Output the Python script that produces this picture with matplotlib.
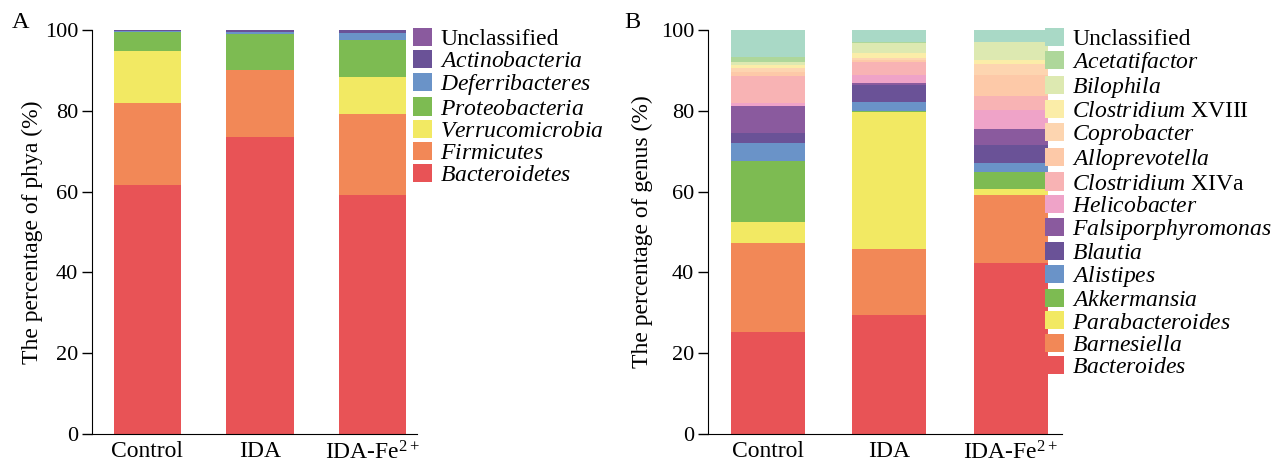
import numpy as np
import matplotlib
matplotlib.use("Agg")
import matplotlib.pyplot as plt

plt.rcParams['font.family'] = ['Liberation Serif', 'DejaVu Serif']
plt.rcParams['mathtext.fontset'] = 'custom'
plt.rcParams['mathtext.rm'] = 'Liberation Serif'
plt.rcParams['mathtext.it'] = 'Liberation Serif:italic'
plt.rcParams['font.size'] = 17.5

groups = ['Control', 'IDA', r'IDA-Fe$^{2+}$']

# panel A: phyla (bottom to top)
phyla = ['Bacteroidetes', 'Firmicutes', 'Verrucomicrobia', 'Proteobacteria',
         'Deferribacteres', 'Actinobacteria', 'Unclassified']
phyla_labels = [r'$\mathit{Bacteroidetes}$', r'$\mathit{Firmicutes}$',
                r'$\mathit{Verrucomicrobia}$', r'$\mathit{Proteobacteria}$',
                r'$\mathit{Deferribacteres}$', r'$\mathit{Actinobacteria}$',
                'Unclassified']
phyla_values = {
    'Control': [61.7, 20.3, 12.9, 4.7, 0.1, 0.2, 0.1],
    'IDA': [73.4, 16.7, 0.0, 8.9, 0.5, 0.4, 0.1],
    'IDA-Fe': [59.1, 20.1, 9.2, 9.1, 1.8, 0.6, 0.1],
}
phyla_colors = ['#E85356', '#F28857', '#F2E963', '#7DBB52',
                '#6A93C8', '#6A5297', '#8A5A9E']

# panel B: genera (bottom to top)
genera = ['Bacteroides', 'Barnesiella', 'Parabacteroides', 'Akkermansia',
          'Alistipes', 'Blautia', 'Falsiporphyromonas', 'Helicobacter',
          'Clostridium XIVa', 'Alloprevotella', 'Coprobacter',
          'Clostridium XVIII', 'Bilophila', 'Acetatifactor', 'Unclassified']
genera_labels = [r'$\mathit{Bacteroides}$', r'$\mathit{Barnesiella}$',
                 r'$\mathit{Parabacteroides}$', r'$\mathit{Akkermansia}$',
                 r'$\mathit{Alistipes}$', r'$\mathit{Blautia}$',
                 r'$\mathit{Falsiporphyromonas}$', r'$\mathit{Helicobacter}$',
                 r'$\mathit{Clostridium}$ XIVa', r'$\mathit{Alloprevotella}$',
                 r'$\mathit{Coprobacter}$', r'$\mathit{Clostridium}$ XVIII',
                 r'$\mathit{Bilophila}$', r'$\mathit{Acetatifactor}$',
                 'Unclassified']
genera_values = {
    'Control': [25.2, 22.2, 5.0, 15.2, 4.4, 2.6, 6.5, 0.8, 6.8, 1.0, 1.0, 0.7, 0.6, 1.4, 6.6],
    'IDA': [29.5, 16.2, 34.0, 0.3, 2.3, 4.2, 0.3, 2.1, 3.3, 0.4, 0.4, 1.2, 2.7, 0.2, 2.9],
    'IDA-Fe': [42.3, 16.9, 1.4, 4.3, 2.1, 4.5, 4.0, 4.7, 3.5, 5.2, 2.7, 1.0, 4.5, 0.0, 2.9],
}
genera_colors = ['#E85356', '#F28857', '#F2E963', '#7DBB52', '#6A93C8',
                 '#6A5297', '#8A5A9E', '#EFA3C8', '#F8B3B4', '#FDC9A8',
                 '#FDD5B0', '#FBEDA8', '#DDE9B1', '#AED79A', '#A9D9C6']

W, H = 1283, 465
fig = plt.figure(figsize=(W / 100, H / 100), dpi=100)


def stacked(ax_px, names, labels, values, colors, xlim, width, ylabel, label_x, legend_x):
    left, right = ax_px
    ax = fig.add_axes([left / W, 1 - 434 / H, (right - left) / W, 404 / H])
    x = np.arange(len(groups))
    data = np.array([values[k] for k in values]).T
    bottom = np.zeros(len(groups))
    handles = []
    for i, name in enumerate(names):
        b = ax.bar(x, data[i], width, bottom=bottom, color=colors[i], linewidth=0)
        handles.append(b)
        bottom += data[i]
    ax.set_xlim(*xlim)
    ax.set_ylim(0, 100)
    ax.set_yticks([0, 20, 40, 60, 80, 100])
    ax.set_xticks(x)
    ax.set_xticklabels(groups)
    ax.spines['top'].set_visible(False)
    ax.spines['right'].set_visible(False)
    ax.tick_params(axis='y', direction='out', length=7, width=1, pad=3, labelsize=16)
    ax.tick_params(axis='x', length=0, pad=5, labelsize=17)
    ax.set_ylabel(ylabel, fontsize=17)
    ax.yaxis.set_label_coords((label_x - left) / (right - left), 0.5)
    ax.legend(handles[::-1], labels[::-1], loc='upper left',
              bbox_to_anchor=(legend_x / W, 1 - 28 / H), bbox_transform=fig.transFigure,
              frameon=False, borderpad=0, borderaxespad=0, handlelength=0.8,
              handleheight=0.8, handletextpad=0.35, labelspacing=0.0, fontsize=17)
    return ax


axA = stacked((92, 417), phyla, phyla_labels, phyla_values, phyla_colors,
              (-0.493, 2.396), 0.6, 'The percentage of phya (%)', 43, 413)
axB = stacked((708, 1062), genera, genera_labels, genera_values, genera_colors,
              (-0.49, 2.42), 0.61, 'The percentage of genus (%)', 653, 1045)

fig.text(12 / W, 1 - 22 / H, 'A', fontsize=17.5, va='center')
fig.text(624 / W, 1 - 22 / H, 'B', fontsize=17.5, va='center')

fig.savefig('out.png', dpi=100)
